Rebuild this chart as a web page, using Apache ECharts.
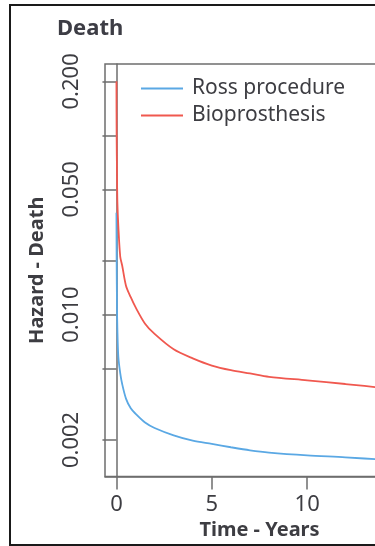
<!DOCTYPE html>
<html>
<head>
<meta charset="utf-8">
<script src="https://cdn.jsdelivr.net/npm/echarts@6/dist/echarts.min.js"></script>
<style>
  html, body { margin: 0; padding: 0; background: #fff; }
  #main { width: 375px; height: 546px; }
</style>
</head>
<body>
<div id="main"></div>
<script>
// years after surgery
var years = [0, 0.01, 0.03, 0.05, 0.1, 0.2, 0.3, 0.5, 0.75, 1, 1.5, 2, 3, 4, 5, 6, 7, 8, 10, 12, 14, 15];
// hazard of death
var ross = [0.037, 0.02, 0.011, 0.0082, 0.0058, 0.0047, 0.0041, 0.0034, 0.003, 0.0028, 0.0025, 0.00233, 0.00212, 0.00198, 0.0019, 0.00182, 0.00175, 0.0017, 0.00164, 0.0016, 0.00155, 0.00153];
var bio = [0.2, 0.1, 0.06, 0.042, 0.031, 0.021, 0.0188, 0.0145, 0.0125, 0.011, 0.0089, 0.0078, 0.0064, 0.0057, 0.0052, 0.0049, 0.0047, 0.0045, 0.0043, 0.0041, 0.0039, 0.0038];
var yTicks = [0.2, 0.1, 0.05, 0.02, 0.01, 0.005, 0.002];
var yLabels = [0.2, 0.05, 0.01, 0.002];
var xTicks = [0, 5, 10, 15];

(function () {
    var font = 'Noto Sans';
    var axisColor = '#6e6e6e';
    var textColor = '#3d3d42';

    function pairs(xs, ys) {
        return xs.map(function (x, i) { return [x, ys[i]]; });
    }

    var myChart = echarts.init(document.querySelector('#main'));
    var option = {
        animation: false,
        textStyle: { fontFamily: font },
        title: {
            text: 'Death',
            left: 52,
            top: 13,
            textStyle: { fontFamily: font, fontSize: 22, fontWeight: 'bold', color: '#3d3d45' }
        },
        legend: {
            orient: 'vertical',
            left: 136,
            top: 73,
            itemWidth: 42,
            itemHeight: 2,
            itemGap: 6,
            icon: 'rect',
            textStyle: { fontFamily: font, fontSize: 21, color: textColor, lineHeight: 21, padding: [0, 0, 0, 4] },
            data: ['Ross procedure', 'Bioprosthesis']
        },
        grid: {
            left: 105,
            top: 64,
            right: -39,
            bottom: 69.5,
            outerBoundsMode: 'none',
            containLabel: false,
            show: true,
            borderColor: axisColor,
            borderWidth: 1.5
        },
        xAxis: {
            type: 'value',
            min: -0.6,
            max: 15.6,
            name: 'Time - Years',
            nameLocation: 'middle',
            nameGap: 44,
            nameTextStyle: { fontFamily: font, fontSize: 20, fontWeight: 'bold', color: textColor },
            splitLine: { show: false },
            axisLine: { lineStyle: { color: axisColor, width: 1.5 } },
            axisTick: { customValues: xTicks, length: 13, lineStyle: { color: axisColor, width: 1.5 } },
            axisLabel: { customValues: xTicks, margin: 17, fontSize: 22, color: textColor, fontFamily: font }
        },
        yAxis: {
            type: 'log',
            min: 0.00125,
            max: 0.25,
            name: 'Hazard - Death',
            nameLocation: 'middle',
            nameGap: 58,
            nameRotate: 90,
            nameTextStyle: { fontFamily: font, fontSize: 20, fontWeight: 'bold', color: textColor },
            splitLine: { show: false },
            minorTick: { show: false },
            axisLine: { lineStyle: { color: axisColor, width: 1.5 } },
            axisTick: { customValues: yTicks, length: 14, lineStyle: { color: axisColor, width: 1.5 } },
            axisLabel: {
                customValues: yLabels,
                rotate: 90,
                margin: 22,
                fontSize: 22,
                color: textColor,
                fontFamily: font,
                formatter: function (v) { return Number(v).toFixed(3); }
            }
        },
        series: [
            {
                name: 'Ross procedure',
                type: 'line',
                smooth: 0.3,
                symbol: 'none',
                color: '#5aa8e4',
                lineStyle: { width: 1.8 },
                data: pairs(years, ross)
            },
            {
                name: 'Bioprosthesis',
                type: 'line',
                smooth: 0.3,
                symbol: 'none',
                color: '#f0584f',
                lineStyle: { width: 1.8 },
                data: pairs(years, bio)
            }
        ],
        graphic: [
            {
                type: 'rect',
                shape: { x: 10, y: 5, width: 420, height: 540 },
                style: { fill: 'none', stroke: '#1a1a1a', lineWidth: 2 },
                silent: true
            }
        ]
    };
    myChart.setOption(option);
    window.addEventListener('resize', function () {
        myChart.resize();
    });
})();
</script>
</body>
</html>
